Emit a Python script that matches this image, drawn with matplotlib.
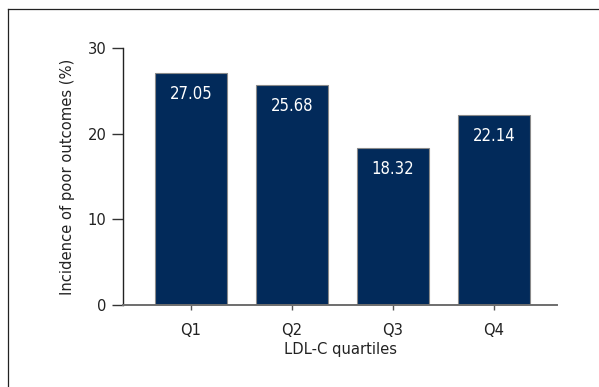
import matplotlib.pyplot as plt
from matplotlib.lines import Line2D

quartiles = ['Q1', 'Q2', 'Q3', 'Q4']
incidence = [27.05, 25.68, 18.32, 22.14]
y_ticks = [0, 10, 20, 30]

plt.rcParams['font.family'] = ['DejaVu Sans']
plt.rcParams['font.stretch'] = 'condensed'
plt.rcParams['font.size'] = 11.8

fig = plt.figure(figsize=(5.99, 3.87), dpi=100)
ax = fig.add_axes([123 / 599, 1 - 305 / 387, (557 - 123) / 599, (305 - 48) / 387])

x = list(range(len(quartiles)))
bars = ax.bar(x, incidence, width=0.71, color='#022a5a', edgecolor='#8a8a8a', linewidth=0.8, zorder=2)

for xi, v in zip(x, incidence):
    ax.text(xi, v - 2.4, f'{v:.2f}', ha='center', va='center', color='white', fontsize=12)

ax.set_xlim(-0.673, 3.624)
ax.set_ylim(0, 30)
ax.set_xticks(x)
ax.set_xticklabels(quartiles)
ax.set_yticks(y_ticks)

for side in ['top', 'right']:
    ax.spines[side].set_visible(False)
ax.spines['left'].set_color('#222222')
ax.spines['left'].set_linewidth(1.0)
ax.spines['bottom'].set_color('#6e6e6e')
ax.spines['bottom'].set_linewidth(1.4)

ax.tick_params(axis='y', length=8, width=1.0, color='#333333', pad=4, labelcolor='#222222')
ax.tick_params(axis='x', length=3.8, width=1.0, color='#555555', pad=9, labelcolor='#222222')

ax.set_xlabel('LDL-C quartiles', color='#222222', labelpad=3)
ax.set_ylabel('Incidence of poor outcomes (%)', color='#222222', labelpad=9)

# frame lines along the top and left edge
fig.add_artist(Line2D([8 / 599, 1], [1 - 9 / 387, 1 - 9 / 387], color='#222222', linewidth=0.9))
fig.add_artist(Line2D([8 / 599, 8 / 599], [0, 1 - 9 / 387], color='#222222', linewidth=0.9))

fig.savefig('out.png', dpi=100)
